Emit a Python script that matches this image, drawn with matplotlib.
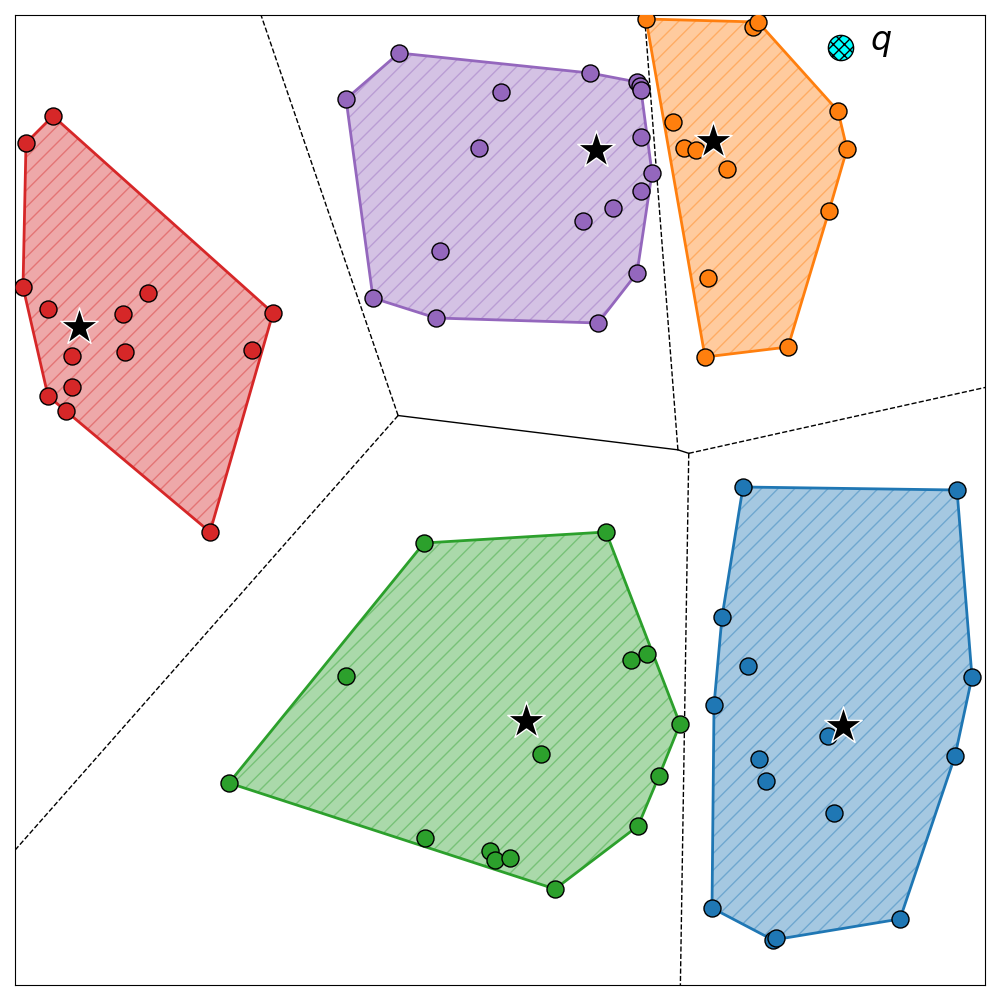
import numpy as np
import matplotlib
matplotlib.use("Agg")
import matplotlib.pyplot as plt
from matplotlib.patches import Polygon
from itertools import combinations

# ---- data (arbitrary units, 0..970 on both axes) ----
blue_x = [728, 942, 707, 733, 699, 957, 813, 744, 751, 819, 940, 697, 885, 758, 761]
blue_y = [498, 495, 368, 319, 280, 308, 249, 226, 204, 172, 229, 77, 66, 45, 47]

orange_x = [631, 738, 743, 823, 832, 814, 773, 690, 693, 658, 669, 681, 712]
orange_y = [966, 958, 963, 874, 836, 774, 638, 628, 707, 863, 837, 835, 816]

green_x = [409, 591, 331, 616, 632, 665, 526, 644, 623, 540, 410, 475, 480, 495, 214]
green_y = [442, 453, 309, 325, 331, 261, 231, 209, 159, 96, 147, 134, 125, 127, 202]

red_x = [38, 11, 8, 33, 133, 108, 110, 57, 57, 33, 51, 195, 237, 258]
red_y = [869, 842, 698, 676, 692, 671, 633, 629, 598, 589, 574, 453, 635, 672]

purple_x = [384, 331, 486, 575, 622, 625, 626, 464, 626, 637, 626, 598, 568, 425, 622, 358, 421, 583]
purple_y = [932, 886, 893, 912, 903, 899, 895, 837, 848, 812, 794, 777, 764, 734, 712, 687, 667, 662]

# cluster centres (stars), order: blue, orange, green, red, purple
center_x = [828, 698, 511, 64, 581]
center_y = [259, 844, 264, 658, 835]

query_x = [826]
query_y = [937]
query_label = "$q$"

colors = ["tab:blue", "tab:orange", "tab:green", "tab:red", "tab:purple"]
clusters_x = [blue_x, orange_x, green_x, red_x, purple_x]
clusters_y = [blue_y, orange_y, green_y, red_y, purple_y]

XMAX = 970
YMAX = 970


def convex_hull(pts):
    pts = sorted(map(tuple, pts))
    def cross(o, a, b):
        return (a[0] - o[0]) * (b[1] - o[1]) - (a[1] - o[1]) * (b[0] - o[0])
    lower = []
    for p in pts:
        while len(lower) >= 2 and cross(lower[-2], lower[-1], p) <= 0:
            lower.pop()
        lower.append(p)
    upper = []
    for p in reversed(pts):
        while len(upper) >= 2 and cross(upper[-2], upper[-1], p) <= 0:
            upper.pop()
        upper.append(p)
    return np.array(lower[:-1] + upper[:-1], dtype=float)


def voronoi_ridges(P, big):
    n = len(P)
    verts = {}
    for i, j, k in combinations(range(n), 3):
        a, b, c = P[i], P[j], P[k]
        d = 2 * (a[0] * (b[1] - c[1]) + b[0] * (c[1] - a[1]) + c[0] * (a[1] - b[1]))
        if abs(d) < 1e-12:
            continue
        ux = ((a @ a) * (b[1] - c[1]) + (b @ b) * (c[1] - a[1]) + (c @ c) * (a[1] - b[1])) / d
        uy = ((a @ a) * (c[0] - b[0]) + (b @ b) * (a[0] - c[0]) + (c @ c) * (b[0] - a[0])) / d
        u = np.array([ux, uy])
        r = np.linalg.norm(u - a)
        if all(np.linalg.norm(P[m] - u) > r - 1e-9 for m in range(n) if m not in (i, j, k)):
            verts[(i, j, k)] = u
    center = P.mean(axis=0)
    finite, infinite = [], []
    for i, j in combinations(range(n), 2):
        vs = [v for t, v in verts.items() if i in t and j in t]
        if len(vs) == 2:
            finite.append(np.array(vs))
        elif len(vs) == 1:
            t = P[j] - P[i]
            t = t / np.linalg.norm(t)
            nrm = np.array([-t[1], t[0]])
            mid = (P[i] + P[j]) / 2
            direction = np.sign(np.dot(mid - center, nrm)) * nrm
            infinite.append(np.array([vs[0], vs[0] + direction * big]))
    return finite, infinite


fig = plt.figure(figsize=(10, 10), dpi=100)
ax = fig.add_axes([0.015, 0.015, 0.97, 0.97])

# Voronoi of centres
P = np.column_stack([center_x, center_y]).astype(float)
finite, infinite = voronoi_ridges(P, big=3000)
for seg in finite:
    ax.plot(seg[:, 0], seg[:, 1], color="k", lw=1.0, zorder=1)
for seg in infinite:
    ax.plot(seg[:, 0], seg[:, 1], color="k", lw=1.0, ls="--", zorder=1)

# hulls and points
for xs, ys, col in zip(clusters_x, clusters_y, colors):
    pts = np.column_stack([xs, ys]).astype(float)
    hull = convex_hull(pts)
    poly = Polygon(hull, closed=True, facecolor=col, edgecolor=col, alpha=0.4,
                   hatch="//", lw=0, zorder=2)
    ax.add_patch(poly)
    closed = np.vstack([hull, hull[:1]])
    ax.plot(closed[:, 0], closed[:, 1], color=col, lw=2, zorder=3)
    ax.scatter(xs, ys, s=150, color=col, edgecolors="k", linewidths=1, zorder=4)

ax.scatter(center_x, center_y, marker="*", s=800, color="k", edgecolors="w",
           linewidths=1, zorder=5)

ax.scatter(query_x, query_y, s=330, color="cyan", edgecolors="k", hatch="xxx",
           linewidths=1, zorder=5)
ax.annotate(query_label, (query_x[0], query_y[0]), xytext=(21, 4),
            textcoords="offset points", fontsize=24, va="center", ha="left")

ax.set_xlim(0, XMAX)
ax.set_ylim(0, YMAX)
ax.set_xticks([])
ax.set_yticks([])

fig.savefig("out.png", dpi=100)
